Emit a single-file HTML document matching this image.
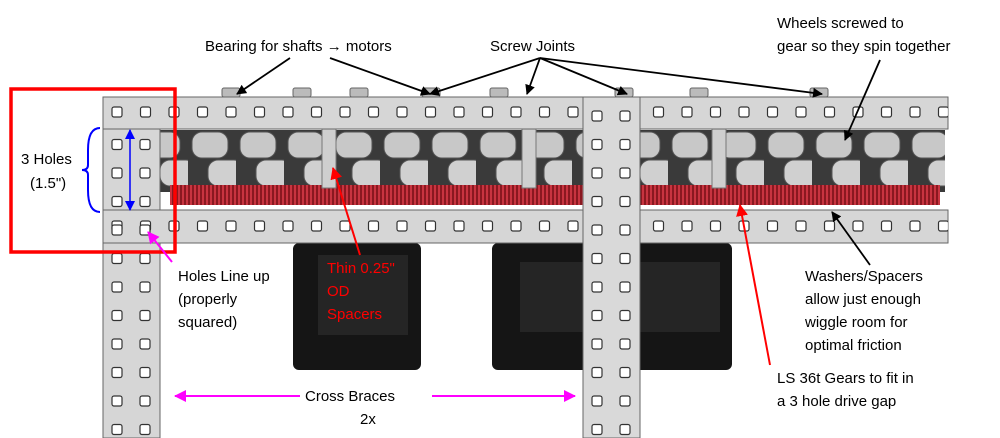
<!DOCTYPE html>
<html><head><meta charset="utf-8"><style>
html,body{margin:0;padding:0;background:#fff;}
svg{display:block;font-family:"Liberation Sans",Arial,sans-serif;}
</style></head><body>
<svg width="1000" height="438" viewBox="0 0 1000 438" xmlns="http://www.w3.org/2000/svg">
<defs>
<pattern id="hh" x="103" y="0" width="28.5" height="438" patternUnits="userSpaceOnUse">
<rect x="9" y="107" width="10" height="10" rx="2" fill="#fff" stroke="#333" stroke-width="1.2"/>
<rect x="9" y="221" width="10" height="10" rx="2" fill="#fff" stroke="#333" stroke-width="1.2"/>
</pattern>
<pattern id="vh" x="103" y="102" width="57" height="28.5" patternUnits="userSpaceOnUse">
<rect x="9" y="9" width="10" height="10" rx="2" fill="#fff" stroke="#333" stroke-width="1.2"/>
<rect x="37" y="9" width="10" height="10" rx="2" fill="#fff" stroke="#333" stroke-width="1.2"/>
</pattern>
<pattern id="vh2" x="583" y="102" width="57" height="28.5" patternUnits="userSpaceOnUse">
<rect x="9" y="9" width="10" height="10" rx="2" fill="#fff" stroke="#333" stroke-width="1.2"/>
<rect x="37" y="9" width="10" height="10" rx="2" fill="#fff" stroke="#333" stroke-width="1.2"/>
</pattern>
<pattern id="roll" x="140" y="0" width="48" height="438" patternUnits="userSpaceOnUse">
<rect x="4" y="132" width="36" height="26" rx="10" fill="#c8c8c8" stroke="#555"/>
<rect x="20" y="160" width="36" height="26" rx="10" fill="#d0d0d0" stroke="#555"/>
</pattern>
<pattern id="gear" x="0" y="0" width="4" height="438" patternUnits="userSpaceOnUse">
<rect x="0" y="0" width="2" height="438" fill="#8a1820"/>
<rect x="2" y="0" width="2" height="438" fill="#c83440"/>
</pattern>
<marker id="ab" markerWidth="10" markerHeight="10" refX="9" refY="5" orient="auto" markerUnits="userSpaceOnUse"><path d="M0,0 L10,5 L0,10 z" fill="#000"/></marker>
<marker id="ar" markerWidth="12" markerHeight="12" refX="11" refY="6" orient="auto" markerUnits="userSpaceOnUse"><path d="M0,0 L12,6 L0,12 z" fill="#f00"/></marker>
<marker id="am" markerWidth="12" markerHeight="12" refX="11" refY="6" orient="auto" markerUnits="userSpaceOnUse"><path d="M0,0 L12,6 L0,12 z" fill="#f0f"/></marker>
<marker id="amb" markerWidth="12" markerHeight="12" refX="1" refY="6" orient="auto" markerUnits="userSpaceOnUse"><path d="M12,0 L0,6 L12,12 z" fill="#f0f"/></marker>
<marker id="ablu" markerWidth="10" markerHeight="10" refX="9" refY="5" orient="auto" markerUnits="userSpaceOnUse"><path d="M0,0 L10,5 L0,10 z" fill="#00f"/></marker>
</defs>
<rect x="293" y="243" width="128" height="127" rx="6" fill="#151515"/>
<rect x="318" y="255" width="90" height="80" fill="#252525"/>
<rect x="492" y="243" width="240" height="127" rx="6" fill="#151515"/>
<rect x="520" y="262" width="200" height="70" fill="#252525"/>
<rect x="140" y="130" width="805" height="62" fill="#3a3a3a"/>
<rect x="140" y="130" width="805" height="62" fill="url(#roll)"/>
<rect x="170" y="185" width="770" height="20" fill="url(#gear)"/>
<rect x="322" y="128" width="14" height="60" fill="#cfcfcf" stroke="#777"/>
<rect x="522" y="128" width="14" height="60" fill="#cfcfcf" stroke="#777"/>
<rect x="712" y="128" width="14" height="60" fill="#cfcfcf" stroke="#777"/>
<rect x="103" y="97" width="845" height="32" fill="#d6d6d6" stroke="#666"/>
<rect x="103" y="210" width="845" height="33" fill="#d6d6d6" stroke="#666"/>
<rect x="103" y="97" width="845" height="146" fill="url(#hh)"/>
<g fill="#bbb" stroke="#666">
<rect x="222" y="88" width="18" height="9" rx="2"/><rect x="293" y="88" width="18" height="9" rx="2"/><rect x="350" y="88" width="18" height="9" rx="2"/><rect x="422" y="88" width="18" height="9" rx="2"/><rect x="490" y="88" width="18" height="9" rx="2"/><rect x="615" y="88" width="18" height="9" rx="2"/><rect x="690" y="88" width="18" height="9" rx="2"/><rect x="810" y="88" width="18" height="9" rx="2"/>
</g>
<rect x="103" y="129" width="57" height="81" fill="#d6d6d6" stroke="#666"/>
<rect x="103" y="243" width="57" height="195" fill="#d6d6d6" stroke="#666"/>
<rect x="103" y="129" width="57" height="309" fill="url(#vh)"/>
<rect x="583" y="97" width="57" height="341" fill="#d9d9d9" stroke="#666"/>
<rect x="583" y="97" width="57" height="341" fill="url(#vh2)"/>
<rect x="11" y="89" width="164" height="163" fill="none" stroke="#f00" stroke-width="3.5"/>
<path d="M100,128 Q88,128 88,150 L88,165 Q88,170 82,170 Q88,170 88,175 L88,190 Q88,212 100,212" fill="none" stroke="#00f" stroke-width="2"/>
<line x1="130" y1="170" x2="130" y2="130" stroke="#00f" stroke-width="1.5" marker-end="url(#ablu)"/>
<line x1="130" y1="170" x2="130" y2="210" stroke="#00f" stroke-width="1.5" marker-end="url(#ablu)"/>
<g font-size="15" fill="#000">
<text x="205" y="51">Bearing for shafts → motors</text>
<text x="490" y="51">Screw Joints</text>
<text x="777" y="28">Wheels screwed to</text>
<text x="777" y="51">gear so they spin together</text>
<text x="21" y="164">3 Holes</text>
<text x="30" y="188">(1.5")</text>
<text x="178" y="281">Holes Line up</text>
<text x="178" y="304">(properly</text>
<text x="178" y="327">squared)</text>
<text x="805" y="281">Washers/Spacers</text>
<text x="805" y="304">allow just enough</text>
<text x="805" y="327">wiggle room for</text>
<text x="805" y="350">optimal friction</text>
<text x="777" y="383">LS 36t Gears to fit in</text>
<text x="777" y="406">a 3 hole drive gap</text>
<text x="360" y="424">2x</text>
</g>
<g font-size="15" fill="#f00">
<text x="327" y="273">Thin 0.25"</text>
<text x="327" y="296">OD</text>
<text x="327" y="319">Spacers</text>
</g>
<g stroke="#000" stroke-width="1.8" fill="none">
<line x1="290" y1="58" x2="237" y2="94" marker-end="url(#ab)"/>
<line x1="330" y1="58" x2="430" y2="94" marker-end="url(#ab)"/>
<line x1="540" y1="58" x2="430" y2="94" marker-end="url(#ab)"/>
<line x1="540" y1="58" x2="527" y2="94" marker-end="url(#ab)"/>
<line x1="540" y1="58" x2="627" y2="94" marker-end="url(#ab)"/>
<line x1="540" y1="58" x2="822" y2="94" marker-end="url(#ab)"/>
<line x1="880" y1="60" x2="845" y2="140" marker-end="url(#ab)"/>
<line x1="870" y1="265" x2="832" y2="212" marker-end="url(#ab)"/>
</g>
<g stroke="#f00" stroke-width="2" fill="none">
<line x1="360" y1="255" x2="333" y2="168" marker-end="url(#ar)"/>
<line x1="770" y1="365" x2="740" y2="205" marker-end="url(#ar)"/>
</g>
<g stroke="#f0f" stroke-width="2" fill="none">
<line x1="172" y1="262" x2="148" y2="232" marker-end="url(#am)"/>
<line x1="175" y1="396" x2="575" y2="396" marker-start="url(#amb)" marker-end="url(#am)"/>
</g>
<rect x="300" y="385" width="132" height="20" fill="#fff"/>
<text x="305" y="401" font-size="15">Cross Braces</text>
</svg>
</body></html>
